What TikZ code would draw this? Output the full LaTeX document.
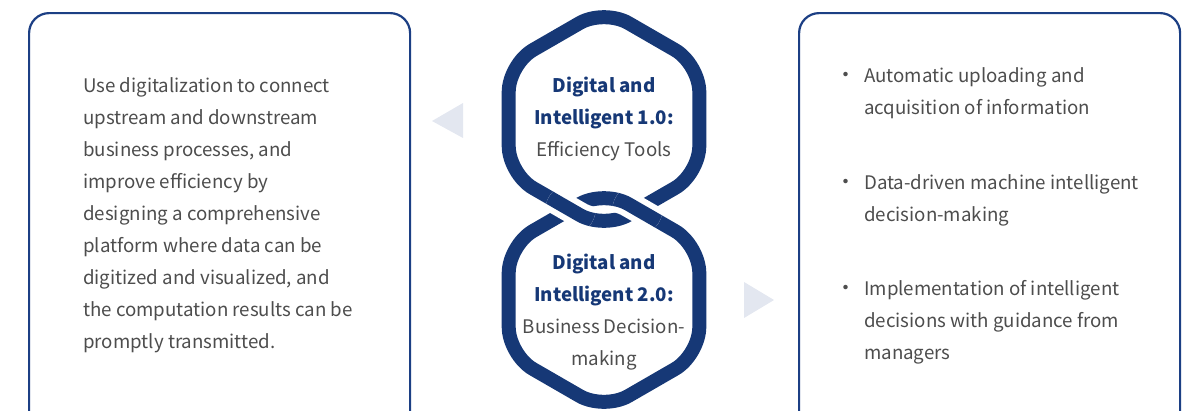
\documentclass[tikz,border=0pt]{standalone}
\usepackage{fontspec}
\setmainfont{Noto Sans CJK SC}
\usetikzlibrary{calc}
\definecolor{navy}{HTML}{163876}
\definecolor{boxnavy}{HTML}{1C3F84}
\definecolor{tri}{HTML}{E3E7F0}
\definecolor{txt}{HTML}{4D4D4D}
\tikzset{
  panel/.style={draw=boxnavy, line width=2.2pt, rounded corners=20pt, fill=white},
  link/.style={draw=navy, line width=14pt, rounded corners=28pt},
  casing/.style={draw=white, line width=26pt, rounded corners=28pt},
  body/.style={text=txt, font=\fontsize{18.7}{32}\selectfont, inner sep=0pt, align=left, anchor=base west},
  ctr/.style={text=txt, font=\fontsize{18.7}{31.7}\selectfont, inner sep=0pt, align=center, anchor=base},
  bul/.style={text=txt, font=\fontsize{21}{21}\selectfont, inner sep=0pt, anchor=center},
  arrowtri/.style={fill=tri}
}
\newcommand{\ttl}[1]{\textcolor{navy}{\bfseries #1}}
\begin{document}
\begin{tikzpicture}[x=1pt,y=-1pt]
\useasboundingbox (0,0) rectangle (1182,410);
\clip (0,0) rectangle (1182,410);
% panels
\node[panel, minimum width=381pt, minimum height=420pt, anchor=north west] (leftbox) at (28,12) {};
\node[panel, minimum width=381pt, minimum height=420pt, anchor=north west] (rightbox) at (798,12) {};
% triangles
\coordinate (lt) at (432,121);
\fill[arrowtri] (lt) -- (463,103) -- (463,138) -- cycle;
\coordinate (rt) at (774,300);
\fill[arrowtri] (rt) -- (744,282) -- (744,318) -- cycle;
% hexagon coordinates
\coordinate (Tm) at (508.7,119);
\coordinate (T1) at (508.7,64);
\coordinate (T2) at (604,9);
\coordinate (T3) at (699.3,64);
\coordinate (T4) at (699.3,174);
\coordinate (T5) at (604,229);
\coordinate (T6) at (508.7,174);
\coordinate (Bm) at (508.7,300);
\coordinate (B1) at (508.7,245);
\coordinate (B2) at (604,190);
\coordinate (B3) at (699.3,245);
\coordinate (B4) at (699.3,355);
\coordinate (B5) at (604,410);
\coordinate (B6) at (508.7,355);
\coordinate (XL) at (570.5,209.5);
\coordinate (XR) at (637.5,209.5);
% full links
\draw[link] (Tm) -- (T1) -- (T2) -- (T3) -- (T4) -- (T5) -- (T6) -- cycle;
\draw[link] (Bm) -- (B1) -- (B2) -- (B3) -- (B4) -- (B5) -- (B6) -- cycle;
% left crossing: top link over
\begin{scope}
\clip (XL) circle (25pt);
\draw[casing] (Tm) -- (T1) -- (T2) -- (T3) -- (T4) -- (T5) -- (T6) -- cycle;
\draw[link] (Tm) -- (T1) -- (T2) -- (T3) -- (T4) -- (T5) -- (T6) -- cycle;
\end{scope}
% right crossing: bottom link over
\begin{scope}
\clip (XR) circle (25pt);
\draw[casing] (Bm) -- (B1) -- (B2) -- (B3) -- (B4) -- (B5) -- (B6) -- cycle;
\draw[link] (Bm) -- (B1) -- (B2) -- (B3) -- (B4) -- (B5) -- (B6) -- cycle;
\end{scope}
% texts (base anchor = baseline of last line)
\node[body] (lefttext) at (83,348) {Use digitalization to connect\\upstream and downstream\\business processes, and\\improve efficiency by\\designing a comprehensive\\platform where data can be\\digitized and visualized, and\\the computation results can be\\promptly transmitted.};
\node[ctr] (toptext) at (604,156.1) {\ttl{Digital and}\\\ttl{Intelligent 1.0:}\\Efficiency Tools};
\node[ctr] (bottext) at (604,365) {\ttl{Digital and}\\\ttl{Intelligent 2.0:}\\Business Decision-\\making};
\node[bul] (b1) at (845.5,77) {•};
\node[bul] (b2) at (845.5,184) {•};
\node[bul] (b3) at (845.5,290) {•};
\node[body] (item1) at (864,114) {Automatic uploading and\\acquisition of information};
\node[body] (item2) at (864,221.5) {Data-driven machine intelligent\\decision-making};
\node[body] (item3) at (864,359) {Implementation of intelligent\\decisions with guidance from\\managers};
\end{tikzpicture}
\end{document}
